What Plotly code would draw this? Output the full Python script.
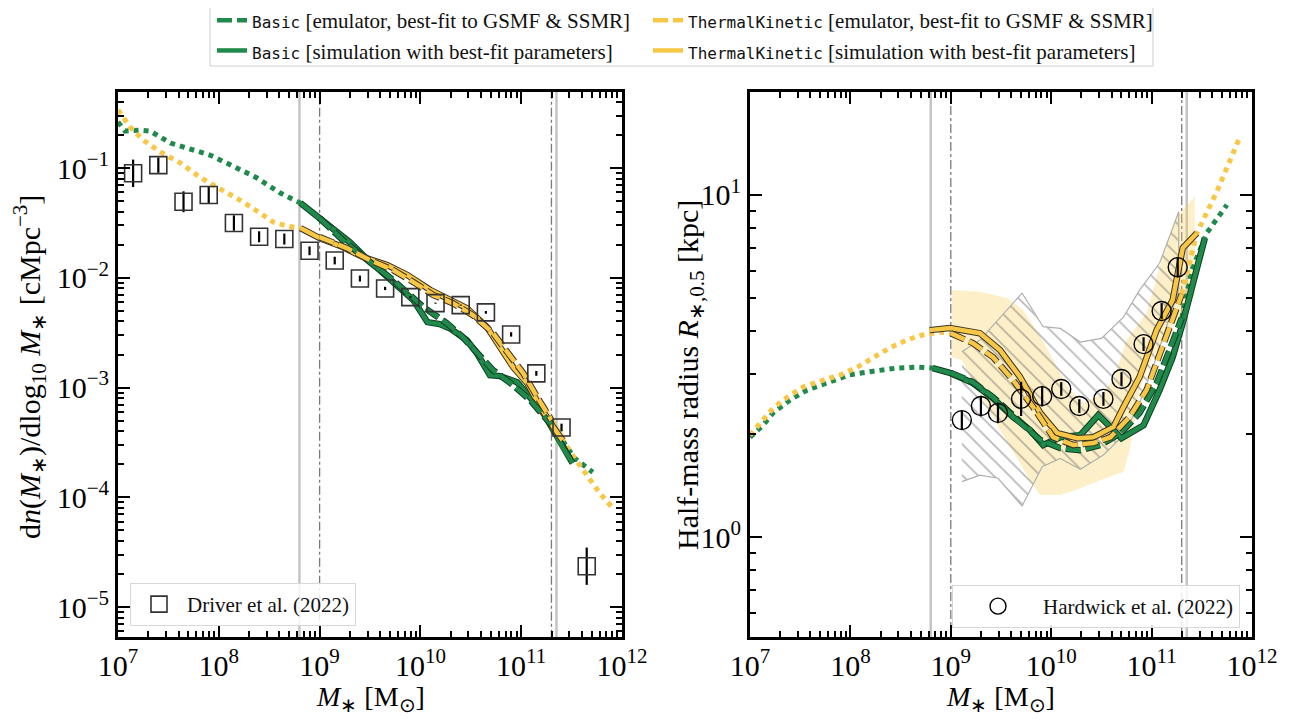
import numpy as np
import plotly.graph_objects as go

# ---------------- data (log10 values) ----------------
# Left panel: galaxy stellar mass function
driver_logm = [7.15, 7.40, 7.65, 7.90, 8.15, 8.40, 8.65, 8.90, 9.15, 9.40,
               9.65, 9.90, 10.15, 10.40, 10.65, 10.90, 11.15, 11.40, 11.65]
driver_logphi = [-1.048, -0.973, -1.307, -1.246, -1.501, -1.626, -1.647, -1.754,
                 -1.843, -2.007, -2.097, -2.176, -2.231, -2.249, -2.315, -2.516,
                 -2.871, -3.364, -4.628]
driver_err_dex = [0.125, 0.07, 0.095, 0.08, 0.07, 0.05, 0.05, 0.04, 0.035, 0.027,
                  0.015, 0.008, 0.005, 0.005, 0.012, 0.02, 0.022, 0.035, 0.17]

basic_emu_gsmf_logm = [7.00, 7.07, 7.22, 7.32, 7.52, 7.71, 7.91, 8.16, 8.38, 8.61, 8.81,
                       9.00, 9.23, 9.50, 9.73, 10.03, 10.26, 10.42, 10.56, 10.72, 10.92,
                       11.09, 11.26, 11.30, 11.41, 11.53, 11.71]
basic_emu_gsmf_logphi = [-0.581, -0.663, -0.654, -0.663, -0.772, -0.827, -0.881, -0.991,
                         -1.091, -1.228, -1.319, -1.456, -1.656, -1.857, -2.021, -2.267,
                         -2.413, -2.541, -2.677, -2.841, -2.978, -3.115, -3.297, -3.334,
                         -3.479, -3.644, -3.771]
basic_sim_gsmf_logm = [8.81, 9.00, 9.17, 9.30, 9.43, 9.57, 9.73, 9.93, 10.07, 10.19, 10.29,
                       10.46, 10.56, 10.69, 10.79, 10.96, 11.09, 11.22, 11.32, 11.41, 11.51]
basic_sim_gsmf_logphi = [-1.319, -1.456, -1.583, -1.675, -1.793, -1.902, -2.039, -2.203,
                         -2.404, -2.422, -2.459, -2.568, -2.686, -2.887, -2.896, -2.951,
                         -3.088, -3.233, -3.388, -3.543, -3.689]
tk_emu_gsmf_logm = [7.00, 7.12, 7.25, 7.42, 7.62, 7.81, 7.98, 8.21, 8.41, 8.54, 8.68, 8.81,
                    9.00, 9.27, 9.50, 9.73, 9.93, 10.13, 10.32, 10.52, 10.72, 10.86, 11.02,
                    11.16, 11.30, 11.41, 11.53, 11.68, 11.78, 11.90]
tk_emu_gsmf_logphi = [-0.471, -0.626, -0.745, -0.854, -0.954, -1.082, -1.173, -1.292,
                      -1.410, -1.492, -1.529, -1.547, -1.629, -1.729, -1.839, -1.930,
                      -2.039, -2.158, -2.231, -2.340, -2.504, -2.677, -2.869, -3.088,
                      -3.297, -3.479, -3.644, -3.844, -3.963, -4.090]
tk_sim_gsmf_logm = [8.81, 9.00, 9.23, 9.43, 9.67, 9.87, 10.10, 10.26, 10.46, 10.66,
                    10.79, 10.92, 11.06, 11.19, 11.32, 11.41]
tk_sim_gsmf_logphi = [-1.547, -1.638, -1.720, -1.811, -1.884, -1.975, -2.112, -2.185,
                      -2.276, -2.449, -2.641, -2.814, -2.960, -3.179, -3.361, -3.479]
tk_gsmf_band_logm = [11.05, 11.20, 11.32, 11.45]
tk_gsmf_band_lo = [-3.03, -3.27, -3.45, -3.66]
tk_gsmf_band_hi = [-2.87, -3.09, -3.27, -3.46]

# Right panel: stellar size - mass relation
hardwick_logm = [9.11, 9.30, 9.47, 9.70, 9.91, 10.10, 10.28, 10.52, 10.70, 10.92, 11.10, 11.26]
hardwick_logr = [0.342, 0.383, 0.363, 0.404, 0.412, 0.433, 0.383, 0.404, 0.462, 0.564, 0.661, 0.789]
hardwick_err_dex = [0.027, 0.03, 0.03, 0.05, 0.03, 0.02, 0.02, 0.02, 0.02, 0.02, 0.023, 0.03]

hardwick_band_up_logm = [9.11, 9.29, 9.71, 9.92, 10.09, 10.29, 10.50, 10.72, 10.88, 11.08, 11.27]
hardwick_band_up_logr = [0.542, 0.576, 0.713, 0.615, 0.610, 0.570, 0.581, 0.643, 0.722, 0.801, 0.951]
hardwick_band_lo_logm = [9.11, 9.29, 9.47, 9.71, 9.91, 10.09, 10.29, 10.52, 10.72, 10.88, 11.05, 11.27]
hardwick_band_lo_logr = [0.162, 0.181, 0.172, 0.091, 0.206, 0.230, 0.198, 0.240, 0.298, 0.391, 0.527, 0.722]

tk_band_up_logm = [9.01, 9.29, 9.56, 9.72, 9.89, 10.02, 10.16, 10.32, 10.49, 10.62, 10.75,
                   10.95, 11.11, 11.25, 11.43]
tk_band_up_logr = [0.722, 0.717, 0.699, 0.664, 0.586, 0.518, 0.439, 0.392, 0.415, 0.459,
                   0.576, 0.655, 0.819, 0.936, 0.995]
tk_band_lo_logm = [9.01, 9.11, 9.49, 9.82, 9.89, 10.09, 10.32, 10.49, 10.72, 10.78, 10.88,
                   11.01, 11.43]
tk_band_lo_logr = [0.526, 0.518, 0.313, 0.152, 0.123, 0.123, 0.146, 0.167, 0.190, 0.254,
                   0.430, 0.526, 0.708]

basic_emu_size_logm = [7.00, 7.13, 7.23, 7.40, 7.57, 7.80, 7.99, 8.23, 8.46, 8.66, 8.82,
                       9.00, 9.22, 9.42, 9.66, 9.89, 10.09, 10.29, 10.49, 10.69, 10.88,
                       11.05, 11.18, 11.30, 11.40, 11.55, 11.75]
basic_emu_size_logr = [0.292, 0.327, 0.363, 0.401, 0.430, 0.453, 0.474, 0.485, 0.494, 0.497,
                       0.494, 0.480, 0.453, 0.409, 0.342, 0.284, 0.260, 0.254, 0.269, 0.304,
                       0.363, 0.450, 0.547, 0.640, 0.780, 0.889, 0.971]
basic_sim_size_logm = [8.82, 8.99, 9.22, 9.42, 9.62, 9.79, 9.92, 10.09, 10.29, 10.47, 10.70,
                       10.92, 11.08, 11.21, 11.31, 11.53]
basic_sim_size_logr = [0.494, 0.480, 0.450, 0.406, 0.351, 0.313, 0.269, 0.292, 0.298, 0.357,
                       0.289, 0.327, 0.430, 0.526, 0.626, 0.874]
tk_emu_size_logm = [7.00, 7.10, 7.23, 7.37, 7.53, 7.73, 7.90, 8.07, 8.23, 8.39, 8.56, 8.72,
                    8.89, 9.00, 9.22, 9.42, 9.62, 9.82, 10.02, 10.22, 10.42, 10.59, 10.78,
                    10.95, 11.11, 11.30, 11.45, 11.65, 11.88]
tk_emu_size_logr = [0.298, 0.333, 0.377, 0.409, 0.439, 0.459, 0.474, 0.497, 0.523, 0.553,
                    0.576, 0.591, 0.599, 0.596, 0.567, 0.526, 0.459, 0.380, 0.292, 0.269,
                    0.275, 0.292, 0.351, 0.430, 0.556, 0.710, 0.888, 1.010, 1.170]
tk_sim_size_logm = [8.79, 8.99, 9.29, 9.49, 9.69, 9.89, 10.06, 10.26, 10.42, 10.62, 10.72,
                    10.88, 11.05, 11.21, 11.31, 11.45]
tk_sim_size_logr = [0.605, 0.611, 0.596, 0.547, 0.468, 0.363, 0.304, 0.289, 0.292, 0.322,
                    0.380, 0.468, 0.605, 0.693, 0.845, 0.888]

# mass limits (log10 Msun)
res_limit_lo = 8.8      # grey solid
fit_range = [9.0, 11.3]  # dash-dot
res_limit_hi = 11.35    # grey solid

x_ticks_log = [7, 8, 9, 10, 11, 12]
y1_ticks_log = [-5, -4, -3, -2, -1]
y2_ticks_log = [0, 1]
x_range = [7, 12]
y1_range = [-5.273, -0.307]
y2_range = [-0.292, 1.301]

# ---------------- styling ----------------
FONT = "Liberation Serif"
MONO = "DejaVu Sans Mono"
GREEN = "#1f8a4b"
GREEN_EDGE = "#0d3f20"
YELLOW = "#f8c746"
YELLOW_EDGE = "#3b3424"

W, H = 1295, 720
OFF = 8  # page body margin offset


def fx(px):
    return (px - OFF) / W


def fy(py):
    return 1 - (py - OFF) / H


L_DOM = [fx(118), fx(622)]
R_DOM = [fx(750), fx(1252)]
Y_DOM = [fy(637), fy(92)]

fig = go.Figure()


def p10(a):
    return 10 ** np.asarray(a, dtype=float)


def seg(logm, logv, lo, hi):
    m = np.asarray(logm)
    v = np.asarray(logv)
    k = (m >= lo - 1e-9) & (m <= hi + 1e-9)
    return p10(m[k]), p10(v[k])


def add_line(x, y, color, width, dash, xa, ya, name=None, legend=None, edge=None, rank=None):
    if edge is not None:
        fig.add_trace(go.Scatter(x=x, y=y, mode="lines", xaxis=xa, yaxis=ya,
                                 line=dict(color=edge, width=width + 2, dash=dash),
                                 showlegend=False, hoverinfo="skip"))
    kw = {}
    if rank is not None:
        kw["legendrank"] = rank
    fig.add_trace(go.Scatter(x=x, y=y, mode="lines", xaxis=xa, yaxis=ya,
                             line=dict(color=color, width=width, dash=dash),
                             name=name, showlegend=name is not None,
                             legend=legend, hoverinfo="skip", **kw))


def vlines(xa, ya, yr):
    ys = [10 ** (yr[0] - 1), 10 ** (yr[1] + 1)]
    for v in [res_limit_lo, res_limit_hi]:
        fig.add_trace(go.Scatter(x=[10 ** v, 10 ** v], y=ys, mode="lines", xaxis=xa, yaxis=ya,
                                 line=dict(color="#c4c4c4", width=2.5), showlegend=False))
    for v in fit_range:
        fig.add_trace(go.Scatter(x=[10 ** v, 10 ** v], y=ys, mode="lines", xaxis=xa, yaxis=ya,
                                 line=dict(color="#7a7a7a", width=1.3, dash="dashdot"),
                                 showlegend=False))


DASH = "15px,5px"
MONO_SPAN = '<span style="font-family:%s;font-size:16px">%s</span>'
legend_names = {
    "be": MONO_SPAN % (MONO, "Basic") + " [emulator, best-fit to GSMF &amp; SSMR]",
    "bs": MONO_SPAN % (MONO, "Basic") + " [simulation with best-fit parameters]",
    "te": MONO_SPAN % (MONO, "ThermalKinetic") + " [emulator, best-fit to GSMF &amp; SSMR]",
    "ts": MONO_SPAN % (MONO, "ThermalKinetic") + " [simulation with best-fit parameters]",
}

# ================= LEFT PANEL =================
vlines("x", "y", y1_range)

bx = list(p10(tk_gsmf_band_logm)) + list(p10(tk_gsmf_band_logm))[::-1]
by = list(p10(tk_gsmf_band_hi)) + list(p10(tk_gsmf_band_lo))[::-1]
fig.add_trace(go.Scatter(x=bx, y=by, fill="toself", mode="lines", line=dict(width=0),
                         fillcolor="rgba(248,199,70,0.35)", showlegend=False, hoverinfo="skip"))

for logm, logv, col in [
    (basic_emu_gsmf_logm, basic_emu_gsmf_logphi, GREEN),
    (tk_emu_gsmf_logm, tk_emu_gsmf_logphi, YELLOW),
]:
    x, y = seg(logm, logv, 0, fit_range[0])
    add_line(x, y, col, 5, "dot", "x", "y")
    x, y = seg(logm, logv, fit_range[1], 13)
    add_line(x, y, col, 5, "dot", "x", "y")

for logm, logv, col, edge in [
    (basic_sim_gsmf_logm, basic_sim_gsmf_logphi, GREEN, GREEN_EDGE),
    (tk_sim_gsmf_logm, tk_sim_gsmf_logphi, YELLOW, YELLOW_EDGE),
]:
    add_line(p10(logm), p10(logv), col, 4.5, "solid", "x", "y", edge=edge)

for logm, logv, col, edge in [
    (basic_emu_gsmf_logm, basic_emu_gsmf_logphi, GREEN, GREEN_EDGE),
    (tk_emu_gsmf_logm, tk_emu_gsmf_logphi, YELLOW, YELLOW_EDGE),
]:
    x, y = seg(logm, logv, fit_range[0], fit_range[1])
    add_line(x, y, col, 4.5, DASH, "x", "y", edge=edge)

dl = np.asarray(driver_logphi)
de = np.asarray(driver_err_dex)
fig.add_trace(go.Scatter(
    x=p10(driver_logm), y=p10(dl), mode="markers", xaxis="x", yaxis="y",
    marker=dict(symbol="square-open", size=17, color="#333333", line=dict(width=1.6)),
    error_y=dict(type="data", symmetric=False, array=p10(dl + de) - p10(dl),
                 arrayminus=p10(dl) - p10(dl - de), color="black", thickness=2.2, width=0),
    name="Driver et al. (2022)", legend="legend3"))

# ================= RIGHT PANEL =================
vlines("x2", "y2", y2_range)

tx = list(p10(tk_band_up_logm)) + list(p10(tk_band_lo_logm))[::-1]
ty = list(p10(tk_band_up_logr)) + list(p10(tk_band_lo_logr))[::-1]
fig.add_trace(go.Scatter(x=tx, y=ty, fill="toself", mode="lines", line=dict(width=0),
                         xaxis="x2", yaxis="y2",
                         fillcolor="rgba(250,205,85,0.33)", showlegend=False, hoverinfo="skip"))

hx = list(p10(hardwick_band_up_logm)) + list(p10(hardwick_band_lo_logm))[::-1]
hy = list(p10(hardwick_band_up_logr)) + list(p10(hardwick_band_lo_logr))[::-1]
fig.add_trace(go.Scatter(x=hx, y=hy, fill="toself", mode="lines",
                         line=dict(color="#b0b0b0", width=1.2),
                         xaxis="x2", yaxis="y2", fillcolor="rgba(0,0,0,0)",
                         fillpattern=dict(shape="\\", fgcolor="#707070", bgcolor="rgba(0,0,0,0)",
                                          size=11, solidity=0.15),
                         showlegend=False, hoverinfo="skip"))

for logm, logv, col in [
    (basic_emu_size_logm, basic_emu_size_logr, GREEN),
    (tk_emu_size_logm, tk_emu_size_logr, YELLOW),
]:
    x, y = seg(logm, logv, 0, fit_range[0])
    add_line(x, y, col, 5, "dot", "x2", "y2")
    x, y = seg(logm, logv, fit_range[1], 13)
    add_line(x, y, col, 5, "dot", "x2", "y2")

add_line(p10(basic_sim_size_logm), p10(basic_sim_size_logr), GREEN, 4.5, "solid", "x2", "y2",
         name=legend_names["bs"], legend="legend", edge=GREEN_EDGE, rank=2)
add_line(p10(tk_sim_size_logm), p10(tk_sim_size_logr), YELLOW, 4.5, "solid", "x2", "y2",
         name=legend_names["ts"], legend="legend2", edge=YELLOW_EDGE, rank=2)

x, y = seg(basic_emu_size_logm, basic_emu_size_logr, fit_range[0], fit_range[1])
add_line(x, y, GREEN, 4.5, DASH, "x2", "y2", name=legend_names["be"], legend="legend",
         edge=GREEN_EDGE, rank=1)
x, y = seg(tk_emu_size_logm, tk_emu_size_logr, fit_range[0], fit_range[1])
add_line(x, y, YELLOW, 4.5, DASH, "x2", "y2", name=legend_names["te"], legend="legend2",
         edge=YELLOW_EDGE, rank=1)

hl = np.asarray(hardwick_logr)
he = np.asarray(hardwick_err_dex)
fig.add_trace(go.Scatter(
    x=p10(hardwick_logm), y=p10(hl), mode="markers", xaxis="x2", yaxis="y2",
    marker=dict(symbol="circle-open", size=19, color="black", line=dict(width=1.4)),
    error_y=dict(type="data", symmetric=False, array=p10(hl + he) - p10(hl),
                 arrayminus=p10(hl) - p10(hl - he), color="black", thickness=2.2, width=0),
    name="Hardwick et al. (2022)", legend="legend4"))


# ================= axes =================
def minor_vals(lo, hi):
    return [m * 10.0 ** d for d in range(lo, hi) for m in range(2, 10)]


def axis(domain, rng, ticks_log, minor, anchor):
    return dict(
        type="log", domain=domain, range=rng, anchor=anchor, automargin=False,
        showline=True, linewidth=3, linecolor="black", mirror="ticks",
        ticks="inside", ticklen=12, tickwidth=2.2, tickcolor="black",
        showgrid=False, zeroline=False,
        tickvals=[10.0 ** t for t in ticks_log],
        ticktext=["10<sup>%s</sup>" % (str(t).replace("-", "−")) for t in ticks_log],
        tickfont=dict(family=FONT, size=30, color="black"),
        minor=dict(ticks="inside", ticklen=6, tickwidth=1.5, tickcolor="black",
                   tickvals=minor, showgrid=False),
    )


LEG_FONT = dict(family=FONT, size=21, color="#111")
TITLE_FONT = dict(family=FONT, size=30, color="black")
fig.update_layout(
    width=W, height=H, margin=dict(l=0, r=0, t=0, b=0, autoexpand=False),
    paper_bgcolor="white", plot_bgcolor="white",
    font=dict(family=FONT, color="black"),
    xaxis=axis(L_DOM, x_range, x_ticks_log, minor_vals(7, 12), "y"),
    yaxis=axis(Y_DOM, y1_range, y1_ticks_log, minor_vals(-6, 0), "x"),
    xaxis2=axis(R_DOM, x_range, x_ticks_log, minor_vals(7, 12), "y2"),
    yaxis2=axis(Y_DOM, y2_range, y2_ticks_log, minor_vals(-1, 2), "x2"),
    legend=dict(x=fx(212), y=fy(0), xanchor="left", yanchor="top",
                bgcolor="rgba(0,0,0,0)", borderwidth=0, font=LEG_FONT, tracegroupgap=0),
    legend2=dict(x=fx(648), y=fy(0), xanchor="left", yanchor="top",
                 bgcolor="rgba(0,0,0,0)", borderwidth=0, font=LEG_FONT, tracegroupgap=0),
    legend3=dict(x=fx(130), y=fy(583), xanchor="left", yanchor="top",
                 bgcolor="rgba(255,255,255,0.85)", bordercolor="#d8d8d8", borderwidth=1,
                 font=LEG_FONT, itemwidth=46),
    legend4=dict(x=fx(1240), y=fy(585), xanchor="right", yanchor="top",
                 bgcolor="rgba(255,255,255,0.85)", bordercolor="#d8d8d8", borderwidth=1,
                 font=LEG_FONT, itemwidth=80),
    shapes=[dict(type="rect", xref="paper", yref="paper", x0=fx(210), x1=fx(1153),
                 y0=fy(66), y1=fy(2), line=dict(color="#d0d0d0", width=1),
                 fillcolor="rgba(0,0,0,0)", layer="below")],
    annotations=[
        dict(text="d<i>n</i>(<i>M</i><sub>∗</sub>)/dlog<sub>10</sub> <i>M</i><sub>∗</sub> [cMpc<sup>−3</sup>]",
             xref="paper", yref="paper", x=fx(29), y=fy(367), textangle=-90,
             xanchor="center", yanchor="middle", showarrow=False, font=TITLE_FONT),
        dict(text="Half-mass radius <i>R</i><sub>∗,0.5</sub> [kpc]",
             xref="paper", yref="paper", x=fx(690), y=fy(375), textangle=-90,
             xanchor="center", yanchor="middle", showarrow=False, font=TITLE_FONT),
        dict(text="<i>M</i><sub>∗</sub> [M<sub>⊙</sub>]", xref="paper", yref="paper",
             x=fx(370), y=fy(698), xanchor="center", yanchor="middle",
             showarrow=False, font=dict(family=FONT, size=28)),
        dict(text="<i>M</i><sub>∗</sub> [M<sub>⊙</sub>]", xref="paper", yref="paper",
             x=fx(1001), y=fy(698), xanchor="center", yanchor="middle",
             showarrow=False, font=dict(family=FONT, size=28)),
    ],
)

fig.write_html("out.html")
